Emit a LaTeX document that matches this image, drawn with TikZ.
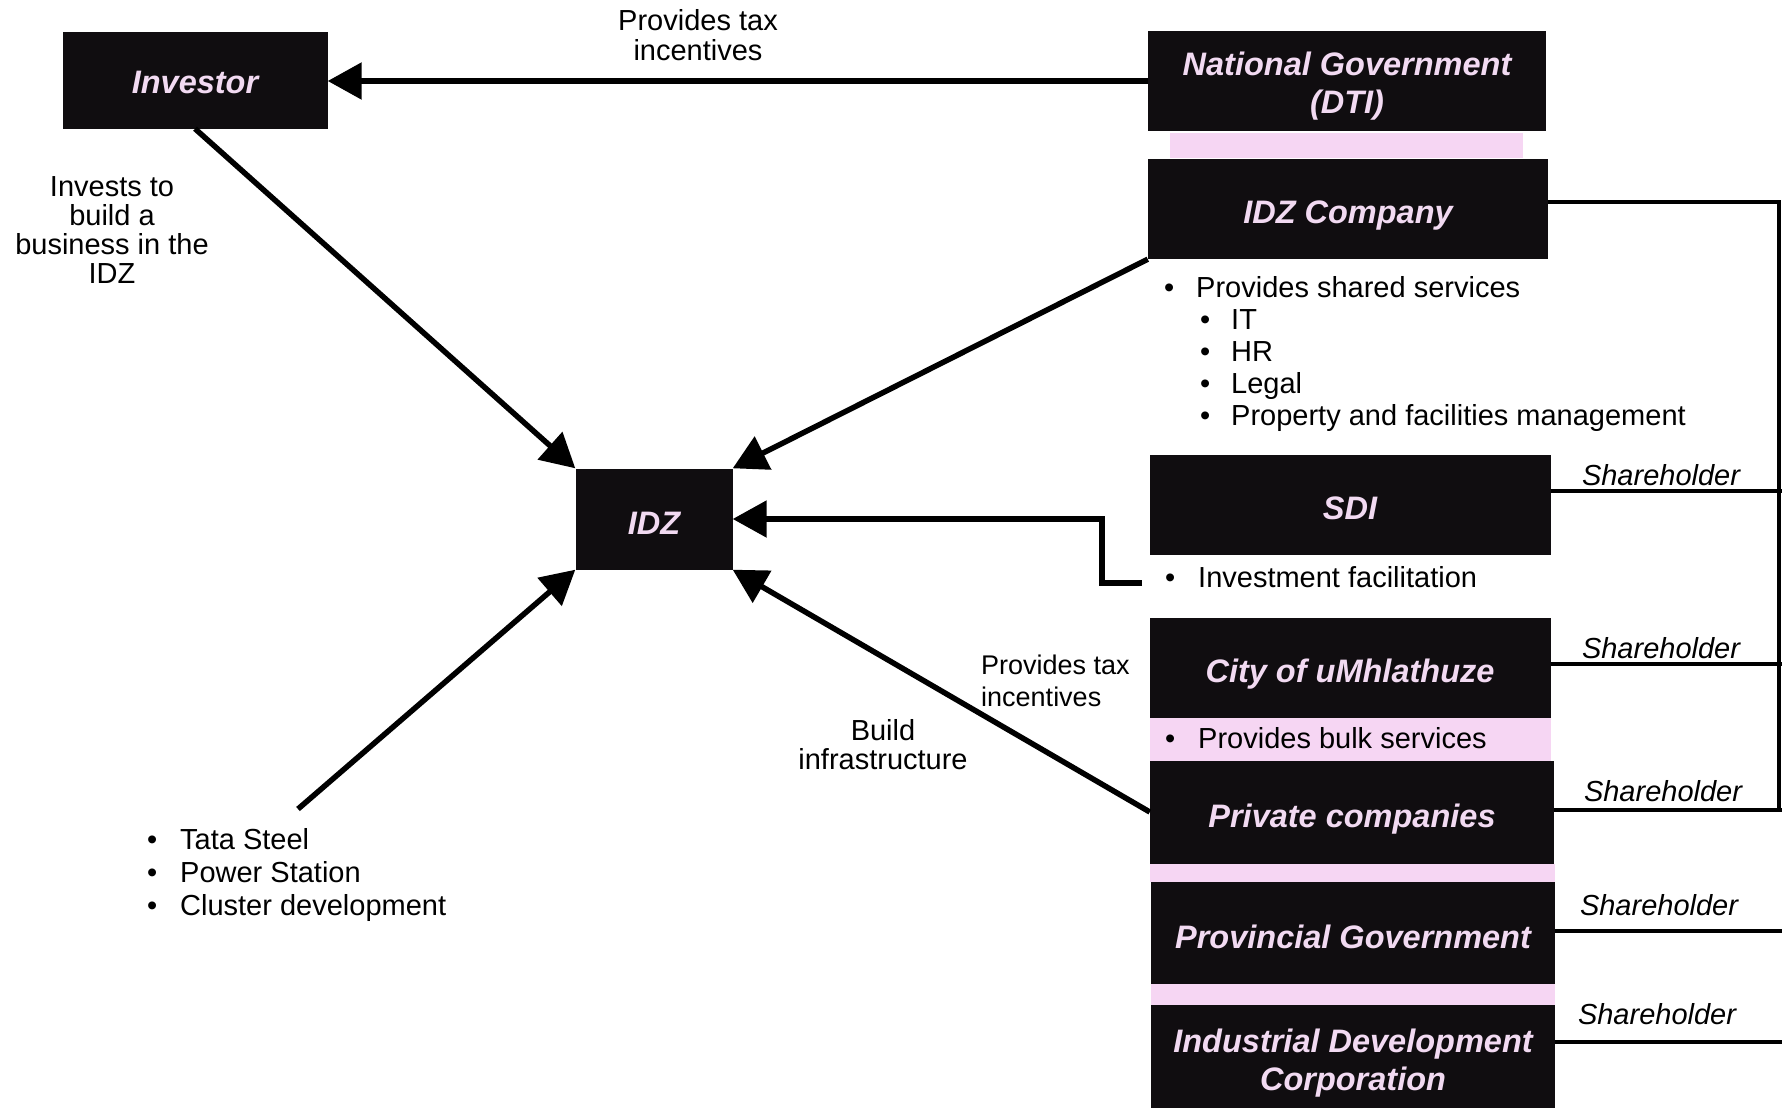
\documentclass[tikz,border=0pt]{standalone}
\usepackage{fontspec}
\setmainfont{Liberation Sans}
\usetikzlibrary{arrows.meta,calc}
\definecolor{boxtext}{RGB}{242,218,242}
\definecolor{pinkbg}{RGB}{246,214,243}
\definecolor{boxfill}{RGB}{16,13,16}
\begin{document}
\begin{tikzpicture}[x=1pt,y=-1pt,
  box/.style={fill=boxfill, inner sep=0pt},
  boxlbl/.style={text=boxtext, font=\fontsize{32.5}{38}\selectfont\bfseries\itshape, align=center, inner sep=0pt},
  lbl/.style={font=\fontsize{29}{32}\selectfont, inner sep=0pt},
  arr/.style={line width=5.5pt, -{Triangle[length=34pt,width=36pt]}},
  share/.style={line width=4.5pt},
  shlbl/.style={font=\fontsize{29}{32}\selectfont\itshape, inner sep=0pt}]
\useasboundingbox[fill=white] (0,0) rectangle (1782,1111);

% pink strips
\fill[pinkbg] (1170,133) rectangle (1523,158);
\fill[pinkbg] (1150,718) rectangle (1551,761);
\fill[pinkbg] (1150,864) rectangle (1555,882);
\fill[pinkbg] (1151,984) rectangle (1555,1005);

% boxes
\node[box, minimum width=265pt, minimum height=97pt] (inv) at (195,80) {};
\node[box, minimum width=398pt, minimum height=100pt] (natgov) at (1347,81) {};
\node[box, minimum width=400pt, minimum height=100pt] (idzco) at (1348,209) {};
\node[box, minimum width=401pt, minimum height=100pt] (sdi) at (1350,505) {};
\node[box, minimum width=401pt, minimum height=100pt] (city) at (1350,668) {};
\node[box, minimum width=404pt, minimum height=103pt] (priv) at (1352,812) {};
\node[box, minimum width=404pt, minimum height=102pt] (prov) at (1353,933) {};
\node[box, minimum width=404pt, minimum height=103pt] (idc) at (1353,1056) {};
\node[box, minimum width=157pt, minimum height=101pt] (idz) at (654,519) {};

% box texts
\node[boxlbl] (invt) at ([yshift=-2pt]inv.center) {Investor};
\node[boxlbl] (natgovt) at ([yshift=-5pt]natgov.center) {National Government\\(DTI)};
\node[boxlbl] (idzcot) at ([yshift=-7pt]idzco.center) {IDZ Company};
\node[boxlbl] (sdit) at ([yshift=-3pt]sdi.center) {SDI};
\node[boxlbl] (cityt) at ([yshift=-6pt]city.center) {City of uMhlathuze};
\node[boxlbl] (privt) at ([yshift=-7pt]priv.center) {Private companies};
\node[boxlbl] (provt) at ([yshift=-4pt]prov.center) {Provincial Government};
\node[boxlbl] (idct) at ([yshift=-7pt]idc.center) {Industrial Development\\Corporation};
\node[boxlbl] (idzt) at ([yshift=-4pt]idz.center) {IDZ};

% text labels (base anchor = baseline of the last line)
\node[lbl, align=center, anchor=base, font=\fontsize{29}{30}\selectfont] (taxtop) at (698,60) {Provides tax\\incentives};
\node[lbl, align=center, anchor=base, font=\fontsize{29}{29}\selectfont] (invests) at (112,283) {Invests to\\build a\\business in the\\IDZ};
\node[lbl, align=left, anchor=base west] (shared) at (1164,425)
  {\makebox[32pt][l]{•}Provides shared services\\
   \hspace*{36pt}\makebox[31pt][l]{•}IT\\
   \hspace*{36pt}\makebox[31pt][l]{•}HR\\
   \hspace*{36pt}\makebox[31pt][l]{•}Legal\\
   \hspace*{36pt}\makebox[31pt][l]{•}Property and facilities management};
\node[lbl, anchor=base west] (invfac) at (1165,587) {\makebox[33pt][l]{•}Investment facilitation};
\node[lbl, anchor=base west] (bulk) at (1165,748) {\makebox[33pt][l]{•}Provides bulk services};
\node[lbl, align=left, anchor=base west, font=\fontsize{27}{32}\selectfont] (taxlow) at (981,706) {Provides tax\\incentives};
\node[lbl, align=center, anchor=base, font=\fontsize{29}{29}\selectfont] (build) at (883,769) {Build\\infrastructure};
\node[lbl, align=left, anchor=base west, font=\fontsize{29}{33}\selectfont] (plants) at (147,915)
  {\makebox[33pt][l]{•}Tata Steel\\
   \makebox[33pt][l]{•}Power Station\\
   \makebox[33pt][l]{•}Cluster development};

% shareholder labels
\node[shlbl] (sh1) at (1661,475) {Shareholder};
\node[shlbl] (sh2) at (1661,648) {Shareholder};
\node[shlbl] (sh3) at (1663,791) {Shareholder};
\node[shlbl] (sh4) at (1659,905) {Shareholder};
\node[shlbl] (sh5) at (1657,1014) {Shareholder};

% connectors
\coordinate (railtop) at (1779,202);
\coordinate (railbot) at (1779,812);
\coordinate (plantsarrow) at (298,809);
\coordinate (sdiend) at (1142,583);

\draw[arr] (natgov.west) -- (inv.east |- natgov.west);
\draw[arr] (inv.south) -- (idz.north west);
\draw[arr] (idzco.south west) -- (idz.north east);
\draw[arr] (sdiend) -- ++(-40,0) |- (idz.east);
\draw[arr] (plantsarrow) -- (idz.south west);
\draw[arr] (priv.west) -- (idz.south east);

\draw[line width=3.5pt] ([yshift=7pt]idzco.east) -- (railtop) -- (railbot);
\draw[share] ([yshift=14pt]sdi.east) -- ++(240,0);
\draw[share] ([yshift=4pt]city.east) -- ++(240,0);
\draw[share] ([yshift=2pt]priv.east) -- ++(240,0);
\draw[share] ([yshift=2pt]prov.east) -- ++(240,0);
\draw[share] ([yshift=14pt]idc.east) -- ++(240,0);
\end{tikzpicture}
\end{document}
